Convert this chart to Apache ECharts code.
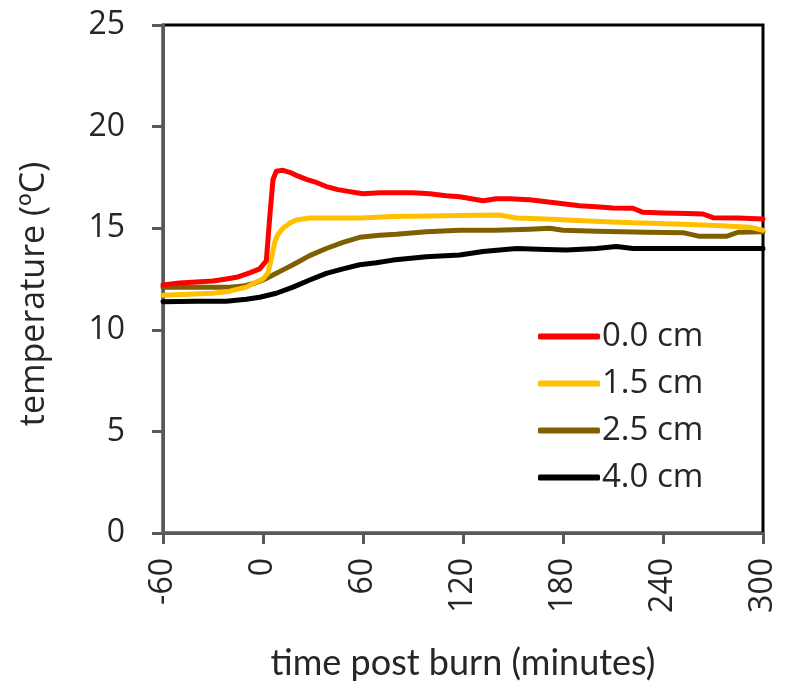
<!DOCTYPE html>
<html><head><meta charset="utf-8">
<script src="https://cdn.jsdelivr.net/npm/echarts@6/dist/echarts.min.js"></script>
<style>html,body{margin:0;padding:0;background:#fff}#c{width:785px;height:690px}</style>
</head><body><div id="c"></div>
<script>
const seriesNames = ['0.0 cm', '1.5 cm', '2.5 cm', '4.0 cm'];
const seriesColors = ['#FF0000', '#FFC000', '#7F6000', '#000000'];
const xTicks = [-60, 0, 60, 120, 180, 240, 300];
const yTicks = [0, 5, 10, 15, 20, 25];

const t0 = [-60,-50,-40,-30,-22,-15,-8,-2,2,4,6,8,12,16,20,26,32,38,45,52,60,70,80,90,100,110,118,125,132,140,148,160,170,180,190,200,210,222,228,240,255,264,270,285,300];
const v0 = [12.2,12.3,12.35,12.4,12.5,12.6,12.8,13.0,13.4,15.5,17.4,17.8,17.85,17.75,17.6,17.4,17.25,17.05,16.9,16.8,16.7,16.75,16.75,16.75,16.7,16.6,16.55,16.45,16.35,16.45,16.45,16.4,16.3,16.2,16.1,16.05,16.0,15.98,15.78,15.75,15.72,15.7,15.52,15.5,15.45];

const t15 = [-60,-45,-30,-20,-10,-4,0,3,5,7,9,12,16,20,28,40,58,78,100,118,142,152,170,192,210,222,252,275,292,300];
const v15 = [11.7,11.75,11.8,11.9,12.1,12.35,12.5,12.8,13.5,14.3,14.7,15.0,15.25,15.4,15.5,15.5,15.5,15.57,15.6,15.62,15.65,15.5,15.45,15.37,15.3,15.27,15.2,15.12,15.05,14.9];

const t25 = [-60,-40,-20,-12,-5,0,6,12,18,28,38,48,58,70,80,98,118,140,160,172,180,200,230,252,262,278,285,300];
const v25 = [12.1,12.1,12.1,12.15,12.3,12.45,12.7,12.95,13.2,13.65,14.0,14.3,14.55,14.65,14.7,14.83,14.9,14.9,14.95,15.0,14.9,14.85,14.8,14.78,14.6,14.6,14.8,14.83];

const t40 = [-60,-40,-22,-10,-2,8,18,28,38,48,58,68,78,98,118,132,152,170,182,200,212,222,260,300];
const v40 = [11.38,11.4,11.4,11.5,11.6,11.8,12.1,12.45,12.78,13.0,13.2,13.3,13.43,13.6,13.68,13.85,14.0,13.95,13.93,14.0,14.1,14.0,14.0,14.0];

const times = [t0, t15, t25, t40];
const vals = [v0, v15, v25, v40];

const chart = echarts.init(document.getElementById('c'));
const txt = '#262626';
const font = 'Open Sans';
chart.setOption({
  animation: false,
  grid: { left: 163, right: 22, top: 25, bottom: 157, show: true, borderColor: '#000', borderWidth: 3, backgroundColor: 'transparent' },
  legend: {
    left: 533, top: 315, orient: 'vertical', icon: 'roundRect',
    itemWidth: 62, itemHeight: 6, itemGap: 14,
    data: seriesNames,
    textStyle: { fontFamily: font, fontSize: 33, lineHeight: 32, color: txt, padding: [0, 0, 0, -3] }
  },
  xAxis: {
    type: 'value', min: -60, max: 300, interval: 60,
    name: 'time post burn (minutes)', nameLocation: 'middle', nameGap: 112,
    nameTextStyle: { fontFamily: 'Lato', fontSize: 36, color: txt },
    axisLine: { show: true, onZero: false, lineStyle: { color: '#595959', width: 3 } },
    axisTick: { show: true, length: 11, lineStyle: { color: '#595959', width: 3 } },
    splitLine: { show: false },
    axisLabel: { rotate: 90, margin: 25, fontFamily: font, fontSize: 32, color: txt,
      formatter: v => xTicks.includes(v) ? String(v) : '' }
  },
  yAxis: {
    type: 'value', min: 0, max: 25, interval: 5,
    name: 'temperature (ºC)', nameLocation: 'middle', nameGap: 112,
    nameTextStyle: { fontFamily: font, fontSize: 34, color: txt, padding: [0, 30, 0, 0] },
    axisLine: { show: true, onZero: false, lineStyle: { color: '#595959', width: 3 } },
    axisTick: { show: true, length: 11, lineStyle: { color: '#595959', width: 3 } },
    splitLine: { show: false },
    axisLabel: { margin: 38, fontFamily: font, fontSize: 32, color: txt,
      formatter: v => yTicks.includes(v) ? String(v) : '' }
  },
  series: seriesNames.map((n, i) => ({
    name: n, type: 'line', showSymbol: false, symbol: 'none',
    data: times[i].map((t, j) => [t, vals[i][j]]),
    lineStyle: { color: seriesColors[i], width: 5, cap: 'round', join: 'round' },
    itemStyle: { color: seriesColors[i] },
    z: 10 - i
  }))
});
</script></body></html>
